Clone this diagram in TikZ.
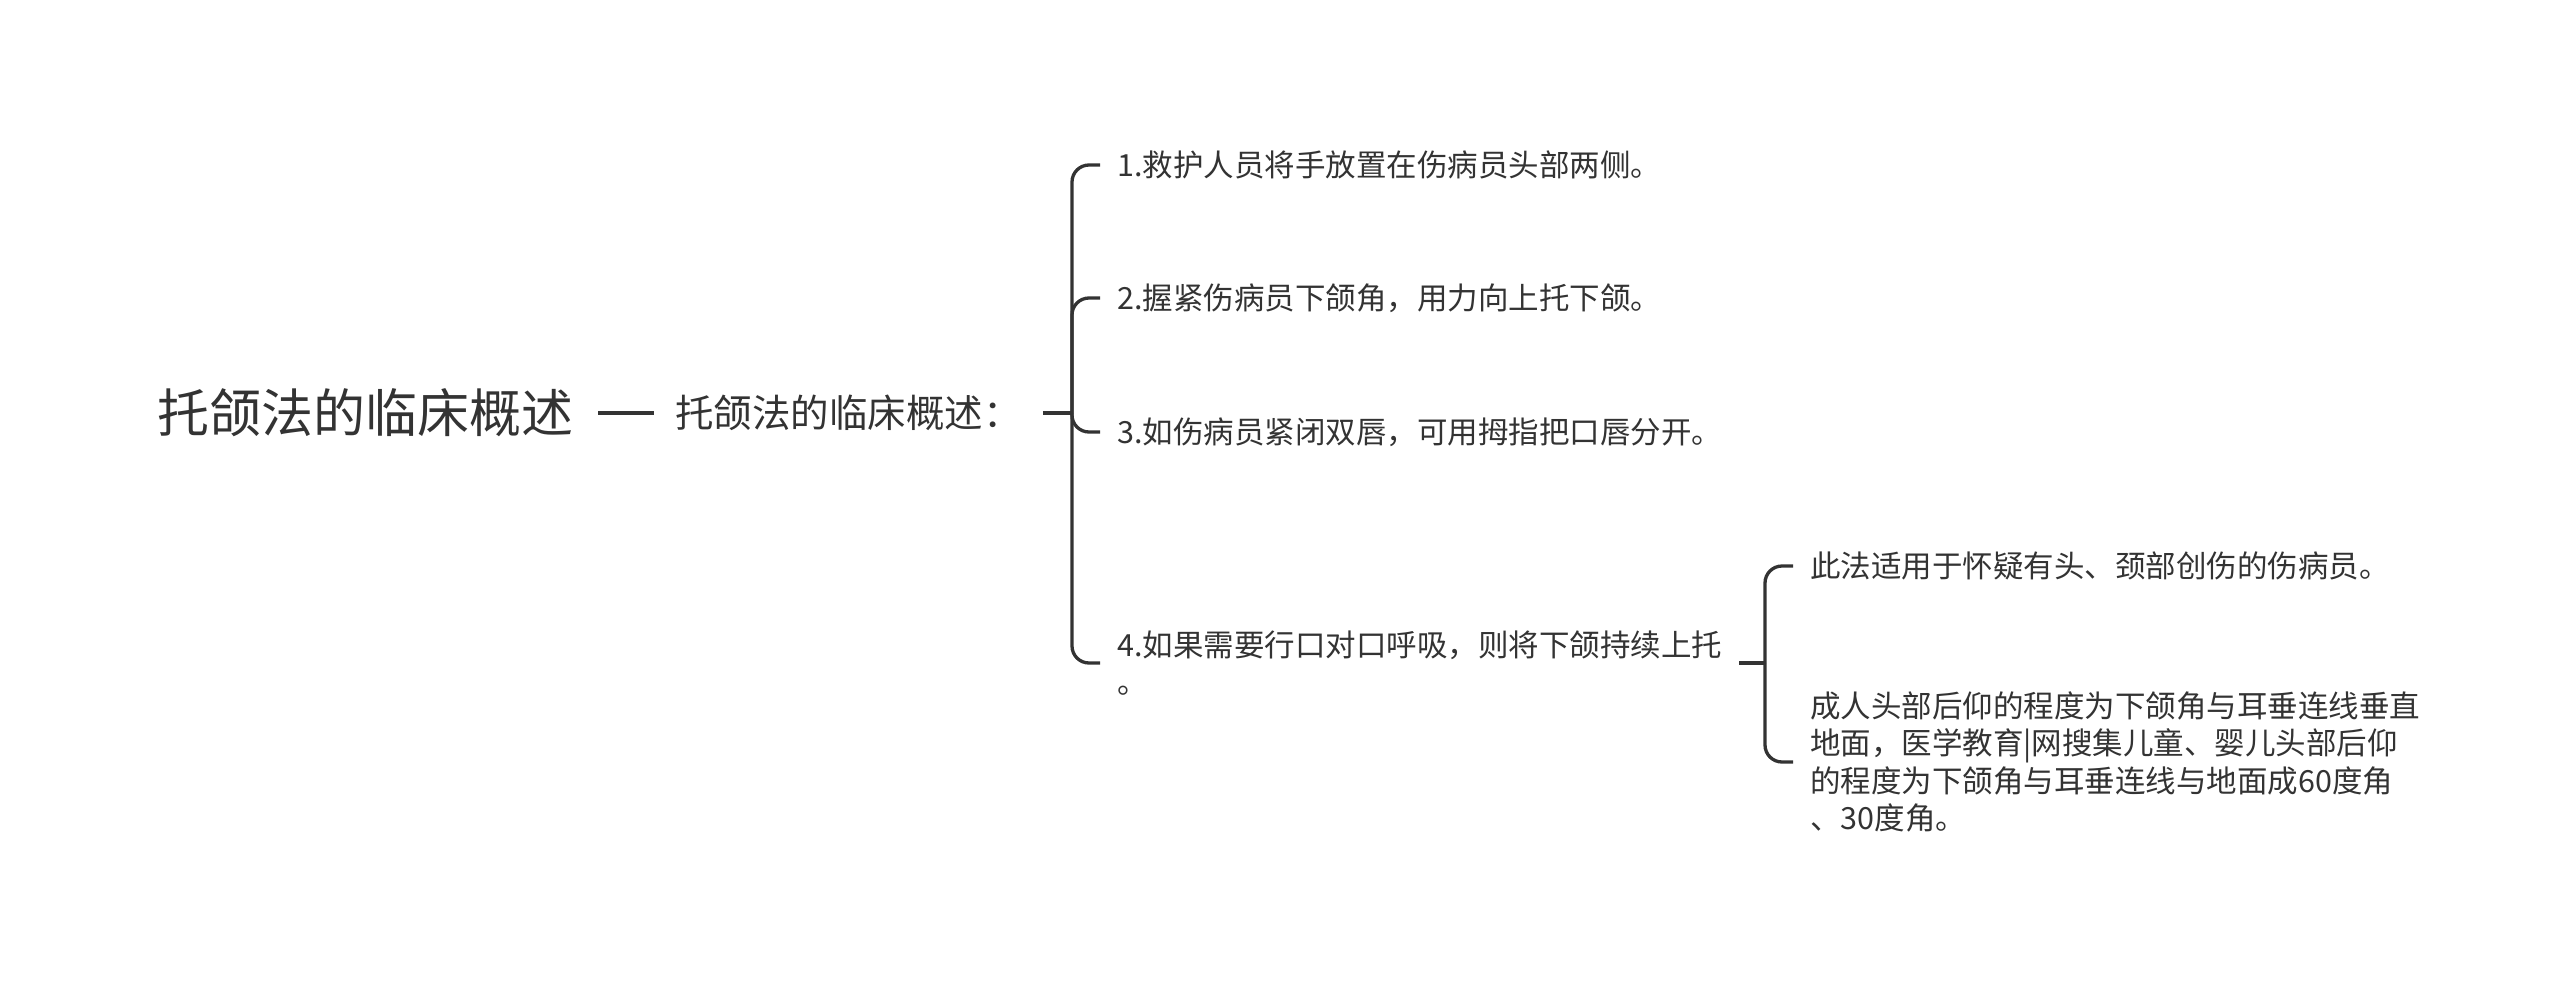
\documentclass[tikz,border=0pt]{standalone}
\usepackage{fontspec}
\setmainfont{Noto Sans CJK SC}
\definecolor{ink}{HTML}{333333}
\tikzset{
  root/.style={font=\fontsize{52pt}{60pt}\selectfont, text=ink, inner xsep=25pt, inner ysep=0pt},
  topic/.style={font=\fontsize{38.5pt}{46pt}\selectfont, text=ink, inner xsep=21pt, inner ysep=0pt},
  leaf/.style={font=\fontsize{30.5pt}{37.5pt}\selectfont, text=ink, inner xsep=17pt, inner ysep=0pt, align=left},
  link/.style={draw=ink, line width=3.3pt, rounded corners=17pt}
}

\begin{document}
\begin{tikzpicture}[x=1pt,y=-1pt]
  \useasboundingbox (0,0) rectangle (2560,983);

  \node[root, anchor=west] (root) at (132,413) {托颌法的临床概述};
  \node[topic, anchor=west] (topic) at (654,413) {托颌法的临床概述：};
  \coordinate (j1) at (1072,413);

  \node[leaf, anchor=west] (c1) at (1100,165) {1.救护人员将手放置在伤病员头部两侧。};
  \node[leaf, anchor=west] (c2) at (1100,298) {2.握紧伤病员下颌角，用力向上托下颌。};
  \node[leaf, anchor=west] (c3) at (1100,432) {3.如伤病员紧闭双唇，可用拇指把口唇分开。};
  \node[leaf, anchor=west] (c4) at (1100,663) {4.如果需要行口对口呼吸，则将下颌持续上托\\。};
  \coordinate (j2) at (1765,663);

  \node[leaf, anchor=west] (d1) at (1793,566) {此法适用于怀疑有头、颈部创伤的伤病员。};
  \node[leaf, anchor=west] (d2) at (1793,762) {成人头部后仰的程度为下颌角与耳垂连线垂直\\地面，医学教育|网搜集儿童、婴儿头部后仰\\的程度为下颌角与耳垂连线与地面成60度角\\、30度角。};

  \draw[link] (root.east) -- (topic.west);
  \draw[link] (topic.east) -- (j1);
  \foreach \i in {1,...,4}
  {
    \draw[link] (j1) |- (c\i.west);
  };
  \draw[link] (c4.east) -- (j2);
  \foreach \i in {1,2}
  {
    \draw[link] (j2) |- (d\i.west);
  };
\end{tikzpicture}
\end{document}
